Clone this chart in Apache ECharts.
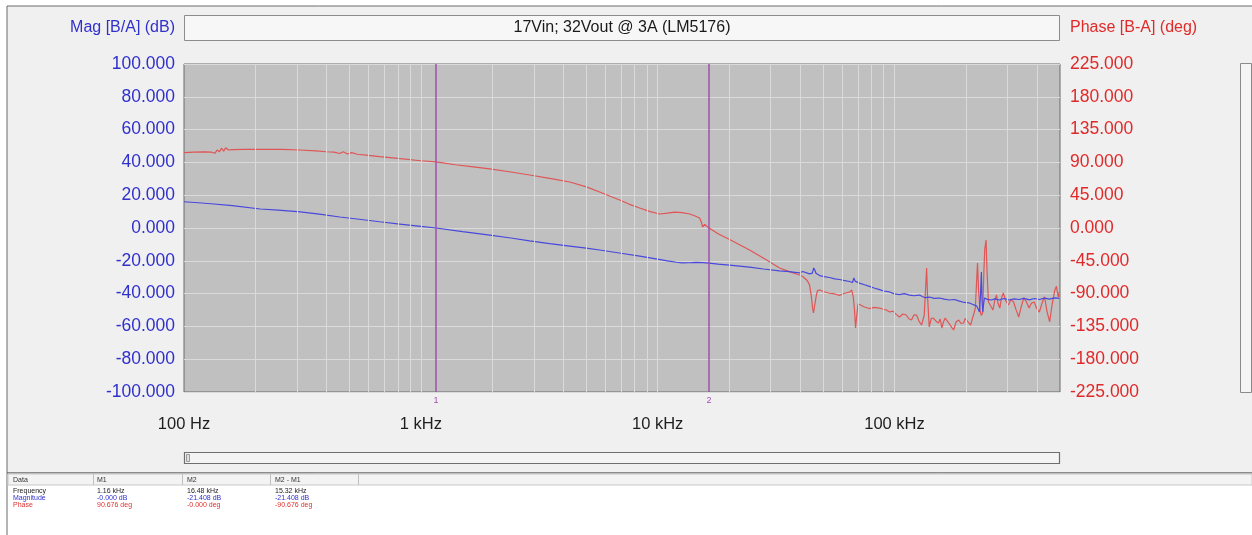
<!DOCTYPE html>
<html><head><meta charset="utf-8">
<script src="https://cdn.jsdelivr.net/npm/echarts@6/dist/echarts.min.js"></script>
<style>html,body{margin:0;padding:0;background:#fff}#c{width:1252px;height:535px}</style>
</head><body><div id="c"></div>
<script>
const chartTitle = '17Vin; 32Vout @ 3A (LM5176)';
const magAxisName = 'Mag [B/A] (dB)';
const phaseAxisName = 'Phase [B-A] (deg)';

const magFreq = [100,115,130,160,210,250,310,380,455,560,670,815,1000,1160,1500,1955,2400,2880,3500,4250,5000,5690,7000,8400,9700,11000,12000,12700,13600,14500,15500,16480,18000,20100,24400,28000,32700,36000,38000,39700,41000,41700,43800,45000,45600,46200,46600,47300,48300,50500,53200,56000,58600,61000,64600,66500,67400,68200,69200,71100,74700,78400,82000,86500,90000,95300,100000,105000,110000,115700,121000,127500,131000,135000,140600,147000,154900,162000,170700,179000,188100,197000,207100,212000,217600,222000,226000,228500,231000,232800,234500,236000,238000,240000,246700,256500,266000,277300,290000,305500,320000,336600,352000,371500,390000,409300,430000,450800,475000,496600];
const magDb = [16.0,15.4,14.8,13.6,11.6,10.9,9.8,8.3,6.7,5.2,3.8,2.4,1.0,0.0,-2.2,-4.3,-6.1,-7.9,-9.5,-11.0,-12.3,-13.4,-15.4,-17.1,-18.7,-20.1,-20.9,-21.3,-21.2,-21.0,-21.1,-21.4,-22.0,-22.6,-23.8,-25.0,-26.2,-26.6,-27.0,-27.4,-26.5,-27.2,-28.0,-27.5,-24.4,-26.0,-27.6,-28.8,-29.0,-29.6,-30.2,-31.0,-31.4,-31.9,-32.6,-33.2,-30.5,-32.4,-33.0,-33.6,-34.6,-35.6,-36.6,-37.6,-38.4,-39.0,-40.2,-40.6,-40.0,-40.9,-41.3,-40.9,-41.8,-42.5,-42.1,-42.9,-42.7,-43.4,-43.9,-43.6,-44.6,-45.4,-45.7,-46.3,-47.0,-47.4,-49.5,-51.2,-40.0,-26.8,-45.0,-51.2,-46.0,-42.7,-43.5,-43.9,-43.2,-43.9,-43.0,-43.9,-43.2,-43.6,-42.9,-43.8,-43.0,-43.6,-42.8,-43.4,-42.6,-42.9];

const phaseFreq = [100,110,122,131,135,138,141,144,147,150,154,160,180,209,260,309,360,400,430,455,470,490,510,540,600,671,800,1000,1160,1400,1700,1955,2400,2884,3500,4254,5000,5690,6300,6915,7600,8400,9300,10190,11000,11800,12700,13650,14400,15040,15300,15490,15800,16100,16480,18000,20130,24440,28500,32720,36500,39730,41000,41690,42800,43770,44500,45100,45500,45930,46800,47310,48270,50500,53200,56000,58620,61500,64590,66000,67000,67800,68500,69300,70200,71150,74670,78450,82000,86460,89500,92400,95500,98500,101700,105000,108500,112200,115000,118000,121000,123900,127000,130100,133500,135500,136700,138000,140200,143000,145900,149500,153300,156000,158500,161000,163800,168000,172000,175000,177800,182000,186700,191000,196000,199000,202700,206000,209600,213000,216800,219500,222500,224200,226500,229500,232500,235700,238500,240500,243600,246000,249400,254000,260600,265000,269500,274000,278600,283000,288100,295000,302900,310000,318400,326000,334800,343000,352000,360000,370100,379000,389100,398000,409100,419000,430100,441000,452200,463000,475400,483000,491700,496600];
const phaseDeg = [103.3,104.0,104.5,104.0,102.5,107.0,104.5,109.5,105.5,110.0,107.0,107.6,107.8,108.0,107.8,107.0,105.8,104.6,104.0,102.2,104.5,101.5,103.5,101.2,99.6,97.8,95.5,92.3,90.7,86.8,83.6,81.0,76.8,72.7,68.0,63.1,56.5,49.4,43.5,38.4,32.5,27.4,22.5,19.2,20.5,21.9,21.0,19.2,16.5,13.7,8.0,1.4,5.0,4.1,0.0,-8.0,-15.8,-30.2,-43.0,-54.9,-60.5,-64.5,-66.5,-68.0,-72.0,-78.0,-92.0,-110.0,-116.6,-108.0,-92.0,-86.0,-85.1,-87.5,-89.5,-90.5,-92.5,-89.5,-88.0,-85.1,-95.0,-112.0,-137.2,-120.0,-104.0,-104.5,-108.4,-110.5,-109.0,-109.8,-111.5,-112.5,-115.3,-114.0,-118.5,-122.1,-118.0,-119.4,-124.5,-126.2,-119.0,-119.4,-128.0,-133.1,-120.0,-80.0,-54.9,-95.0,-135.8,-124.0,-123.5,-127.5,-130.3,-125.0,-137.2,-129.0,-123.5,-128.8,-133.1,-137.0,-139.9,-129.0,-126.2,-131.0,-130.3,-124.0,-123.5,-130.0,-133.1,-125.0,-116.6,-110.0,-70.0,-48.0,-85.0,-112.5,-120.0,-116.6,-60.0,-30.0,-16.5,-60.0,-101.5,-106.0,-112.5,-100.0,-91.9,-104.0,-109.8,-96.0,-89.2,-100.0,-105.7,-98.0,-101.5,-112.0,-122.1,-108.0,-95.6,-101.0,-109.8,-103.0,-101.5,-110.0,-115.3,-104.0,-94.3,-115.0,-128.9,-105.0,-85.1,-80.0,-95.0,-88.0];

const markerFreq = [1160, 16480];
const markerNames = ['1', '2'];
const gridFreqs = [200,300,400,500,600,700,800,900,1000,2000,3000,4000,5000,6000,7000,8000,9000,10000,20000,30000,40000,50000,60000,70000,80000,90000,100000,200000,300000,400000];

const tableHeader = ['Data', 'M1', 'M2', 'M2 - M1'];
const tableRows = [
  ['Frequency', '1.16 kHz', '16.48 kHz', '15.32 kHz'],
  ['Magnitude', '-0.000 dB', '-21.408 dB', '-21.408 dB'],
  ['Phase', '90.676 deg', '-0.000 deg', '-90.676 deg']
];
const rowColors = ['#222222', '#3030d0', '#e03030'];

const FONT = 'Liberation Sans, Arial, sans-serif';
const BLUE = '#3030cc';
const RED = '#e02a2a';

const chart = echarts.init(document.getElementById('c'), null, {renderer: 'canvas'});

const colX = [13, 97, 187, 275];
const graphics = [
  {type: 'rect', z: -100, shape: {x: 7, y: 6, width: 1250, height: 467}, style: {fill: '#f0f0f0', stroke: '#6a6a6a', lineWidth: 1}},
  {type: 'rect', z: -100, shape: {x: 7, y: 473, width: 1250, height: 70}, style: {fill: '#ffffff', stroke: '#6a6a6a', lineWidth: 1}},
  {type: 'rect', z: -99, shape: {x: 8, y: 474, width: 1244, height: 11}, style: {fill: '#f3f3f3', stroke: '#c8c8c8', lineWidth: 1}},
  {type: 'rect', z: 10, shape: {x: 184.5, y: 15.5, width: 875, height: 25}, style: {fill: '#f7f7f7', stroke: '#8c8c8c', lineWidth: 1}},
  {type: 'text', z: 11, style: {x: 622, y: 28, text: chartTitle, font: '16px ' + FONT, fill: '#1a1a1a', textAlign: 'center', textVerticalAlign: 'middle'}},
  {type: 'text', z: 11, style: {x: 175, y: 28, text: magAxisName, font: '16px ' + FONT, fill: BLUE, textAlign: 'right', textVerticalAlign: 'middle'}},
  {type: 'text', z: 11, style: {x: 1070, y: 28, text: phaseAxisName, font: '16px ' + FONT, fill: RED, textAlign: 'left', textVerticalAlign: 'middle'}},
  {type: 'rect', z: 10, shape: {x: 1240.5, y: 63.5, width: 11, height: 329}, style: {fill: '#f4f4f4', stroke: '#8a8a8a', lineWidth: 1}},
  {type: 'rect', z: 10, shape: {x: 184.5, y: 452.5, width: 875, height: 11}, style: {fill: '#f4f4f4', stroke: '#6e6e6e', lineWidth: 1.2}},
  {type: 'rect', z: 11, shape: {x: 186.5, y: 454.5, width: 3, height: 7}, style: {fill: '#e0e0e0', stroke: '#9a9a9a', lineWidth: 1}}
];
[93, 182, 270, 358].forEach(x => graphics.push({type: 'line', z: -98, shape: {x1: x + 0.5, y1: 474, x2: x + 0.5, y2: 485}, style: {stroke: '#c0c0c0', lineWidth: 1}}));
tableHeader.forEach((t, i) => graphics.push({type: 'text', z: 11, style: {x: colX[i], y: 480, text: t, font: '7px ' + FONT, fill: '#333', textVerticalAlign: 'middle'}}));
tableRows.forEach((row, r) => row.forEach((t, i) => graphics.push({type: 'text', z: 11, style: {x: colX[i], y: 491.5 + r * 6.7, text: t, font: '7px ' + FONT, fill: rowColors[r], textVerticalAlign: 'middle'}})));

function fmtFreq(v) {
  if (v >= 1000) return (v / 1000) + ' kHz';
  return v + ' Hz';
}

const option = {
  animation: false,
  backgroundColor: '#ffffff',
  graphic: graphics,
  grid: {left: 184, right: 192, top: 64, bottom: 143, show: true, backgroundColor: '#c0c0c0', borderColor: '#6a6a6a', borderWidth: 1},
  xAxis: {
    type: 'log', logBase: 10, min: 100, max: 500000,
    axisLine: {show: false}, axisTick: {show: false},
    splitLine: {show: false},
    axisLabel: {formatter: fmtFreq, color: '#1e1e1e', fontSize: 16.5, fontFamily: FONT, margin: 24, showMaxLabel: false}
  },
  yAxis: [
    {type: 'value', min: -100, max: 100, interval: 20, position: 'left',
     axisLine: {show: false}, axisTick: {show: false},
     splitLine: {show: true, lineStyle: {color: '#dadada', width: 1}},
     axisLabel: {formatter: v => v.toFixed(3), color: BLUE, fontSize: 17.5, fontFamily: FONT, margin: 9}},
    {type: 'value', min: -225, max: 225, interval: 45, position: 'right',
     axisLine: {show: false}, axisTick: {show: false}, splitLine: {show: false},
     axisLabel: {formatter: v => v.toFixed(3), color: RED, fontSize: 17.5, fontFamily: FONT, margin: 10}}
  ],
  series: [
    {type: 'line', name: 'grid', data: [], silent: true, z: 1,
     markLine: {silent: true, symbol: ['none', 'none'], animation: false,
       lineStyle: {color: '#dadada', width: 1, type: 'solid'}, label: {show: false},
       data: gridFreqs.map(f => ({xAxis: f}))}},
    {type: 'line', name: 'Phase', yAxisIndex: 1, data: phaseFreq.map((f, i) => [f, phaseDeg[i]]),
     showSymbol: false, symbol: 'none', lineStyle: {color: '#e05555', width: 1.2}, itemStyle: {color: '#e05555'}, z: 3},
    {type: 'line', name: 'Magnitude', yAxisIndex: 0, data: magFreq.map((f, i) => [f, magDb[i]]),
     showSymbol: false, symbol: 'none', lineStyle: {color: '#4848dd', width: 1.2}, itemStyle: {color: '#4848dd'}, z: 4},
    {type: 'line', name: 'markers', data: [], silent: true, z: 5,
     markLine: {silent: true, symbol: ['none', 'none'], animation: false,
       lineStyle: {color: '#a050b0', width: 1.5, type: 'solid'},
       label: {show: true, position: 'start', color: '#a050b0', fontSize: 9, fontFamily: FONT, distance: 4,
         formatter: p => markerNames[markerFreq.indexOf(p.value)] || ''},
       data: markerFreq.map(f => ({xAxis: f}))}}
  ]
};
chart.setOption(option);
</script>
</body></html>
